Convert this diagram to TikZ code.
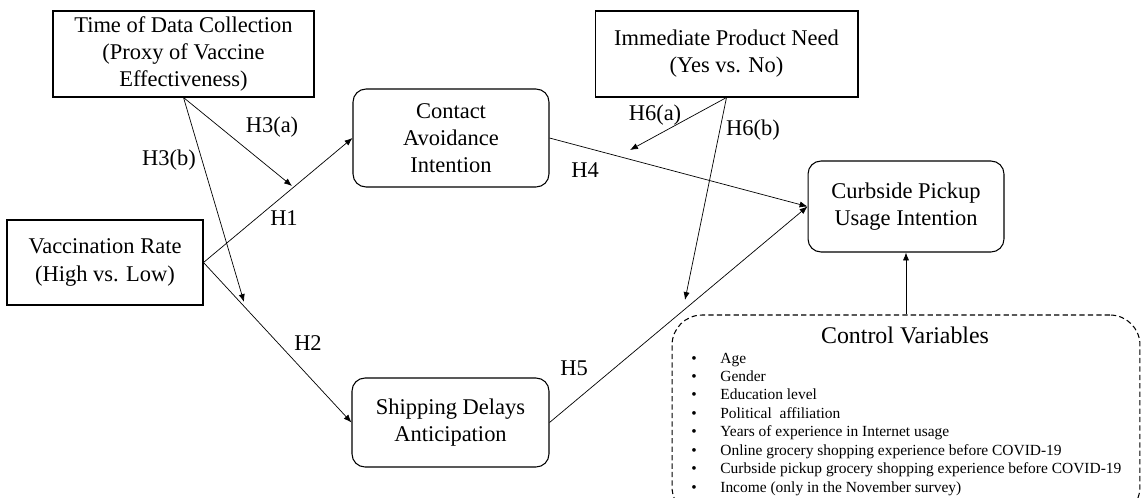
\documentclass[tikz,border=0pt]{standalone}
\usepackage{fontspec}
\setmainfont{Liberation Serif}
\usetikzlibrary{positioning,arrows.meta,calc}

\tikzset{
  box/.style={draw, line width=0.6pt, align=center, inner sep=0pt,
    font=\fontsize{12.8}{15.4}\selectfont},
  roundbox/.style={box, rounded corners=0.26cm},
  hyp/.style={inner sep=0pt, font=\fontsize{12.8}{15}\selectfont},
  arr/.style={-{Latex[length=4.5pt,width=3.5pt]}, line width=0.4pt},
  cvitem/.style={inner sep=0pt, anchor=base west, font=\fontsize{8.8}{10}\selectfont},
}

\begin{document}
\begin{tikzpicture}[x=0.02cm, y=-0.02cm]
  \clip (0,0) rectangle (1142,497);

  % moderators
  \node[box, minimum width=5.22cm, minimum height=1.72cm] (tdc) at (183.5,54)
    {Time of Data Collection\\(Proxy of Vaccine\\Effectiveness)};
  \node[box, minimum width=5.26cm, minimum height=1.72cm] (ipn) at (726.5,54)
    {Immediate Product Need\\(Yes vs. No)};

  % main path
  \node[box, minimum width=3.92cm, minimum height=1.70cm] (vr) at (105,262.5)
    {Vaccination Rate\\(High vs. Low)};
  \node[roundbox, minimum width=3.92cm, minimum height=1.96cm] (cai) at (451,138)
    {Contact\\Avoidance\\Intention};
  \node[roundbox, minimum width=3.94cm, minimum height=1.78cm] (sda) at (450.5,422.5)
    {Shipping Delays\\Anticipation};
  \node[roundbox, minimum width=3.92cm, minimum height=1.82cm] (cpu) at (906,206.5)
    {Curbside Pickup\\Usage Intention};

  % control variables
  \node[draw, dashed, dash pattern=on 3pt off 1.8pt, line width=0.6pt, rounded corners=0.6cm,
    minimum width=9.36cm, minimum height=4.04cm] (ctl) at (906,416) {};
  \node[inner sep=0pt, anchor=base, font=\fontsize{13.6}{16}\selectfont] (ctltitle) at (905,343)
    {Control Variables};
  \foreach \txt [count=\i from 0] in {Age, Gender, Education level, Political\ \ affiliation,
      Years of experience in Internet usage,
      Online grocery shopping experience before COVID-19,
      Curbside pickup grocery shopping experience before COVID-19,
      Income (only in the November survey)}{
    \node[cvitem] (bul\i) at (691,363+18.45*\i) {\textbullet};
    \node[cvitem] (cv\i) at (720,363+18.45*\i) {\txt};
  }

  % hypotheses
  \coordinate (h3a) at (292,186);
  \coordinate (h3b) at (244,302);
  \coordinate (h6a) at (630,150);
  \coordinate (h6b) at (685,300);

  \draw[arr] (vr.east) -- (cai.west);
  \draw[arr] (vr.east) -- (sda.west);
  \draw[arr] (tdc.south) -- (h3a);
  \draw[arr] (tdc.south) -- (h3b);
  \draw[arr] (cai.east) -- (cpu.west);
  \draw[arr] (sda.east) -- (cpu.west);
  \draw[arr] (ipn.south) -- (h6a);
  \draw[arr] (ipn.south) -- (h6b);
  \draw[arr] (ctl.north) -- (cpu.south);

  \node[hyp] (lh1) at (284,218) {H1};
  \node[hyp] (lh2) at (308,343) {H2};
  \node[hyp] (lh3a) at (272,127) {H3(a)};
  \node[hyp] (lh3b) at (169,160) {H3(b)};
  \node[hyp] (lh4) at (585,170) {H4};
  \node[hyp] (lh5) at (574,368) {H5};
  \node[hyp] (lh6a) at (655,115) {H6(a)};
  \node[hyp] (lh6b) at (753,130) {H6(b)};
\end{tikzpicture}
\end{document}
